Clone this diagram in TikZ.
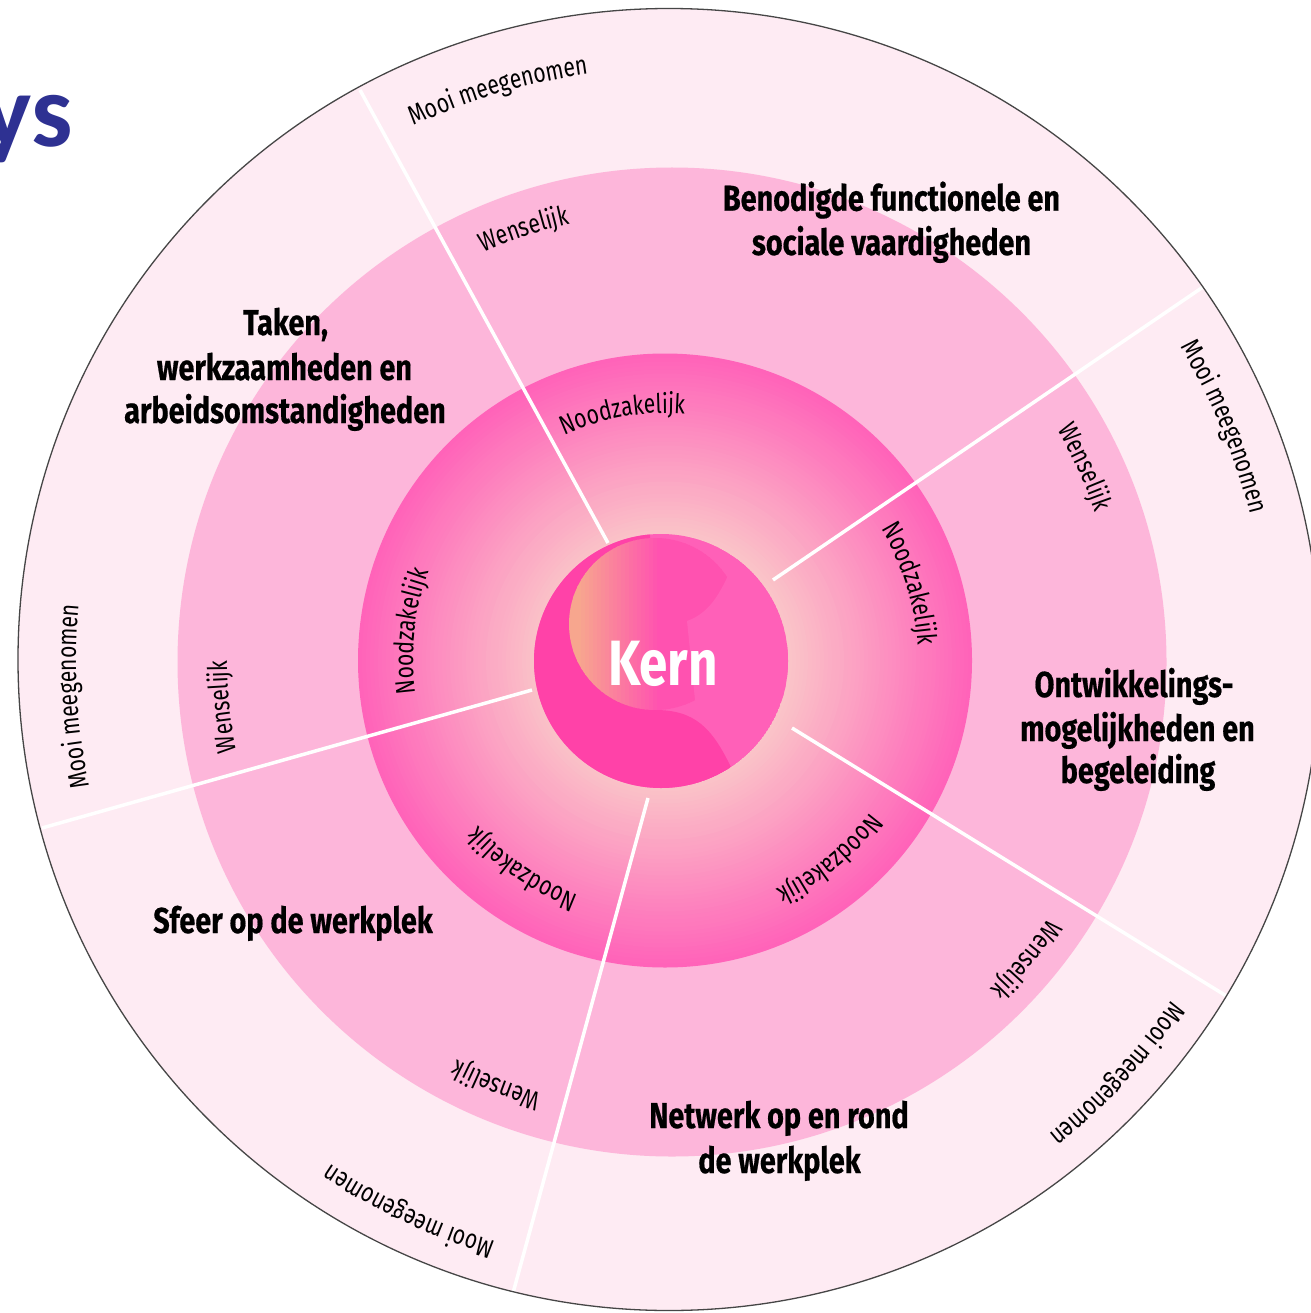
\documentclass[tikz,border=0pt]{standalone}
\usepackage{fontspec}
\usetikzlibrary{decorations.text}
\newfontfamily\hfont[FakeStretch=0.80,BoldFeatures={FakeBold=0.5}]{Fira Sans}
\newfontfamily\lfont[FakeStretch=0.78]{Fira Sans}
\newfontfamily\kfont[FakeStretch=0.80]{Fira Sans}
\newfontfamily\ysfont{Carlito}
\newcommand\lblstyle{\lfont\fontsize{27pt}{32pt}\selectfont}
\newcommand\headstyle{\hfont\bfseries\fontsize{36pt}{44pt}\selectfont}
\definecolor{ringout}{RGB}{254,235,243}
\definecolor{ringmid}{RGB}{253,182,218}
\definecolor{glowin}{RGB}{250,196,200}
\definecolor{glowout}{RGB}{255,98,185}
\definecolor{kernmid}{RGB}{255,96,184}
\definecolor{kerndark}{RGB}{255,66,168}
\definecolor{kernpeach}{RGB}{247,166,142}
\definecolor{kerngrad}{RGB}{255,82,176}
\definecolor{ysblue}{RGB}{46,49,146}
\definecolor{rimgray}{RGB}{70,70,70}
\newcommand\arclabel[3]{\path[decorate,decoration={text along path,text align=center,text={|\lblstyle|#3}}] (G) ++({#1+45}:#2pt) arc[start angle={#1+45},end angle={#1-45},radius=#2pt];}
\tikzset{
  divider/.style={draw=white,line width=3.5pt},
  rim/.style={draw=rimgray,line width=1.3pt},
  heading/.style={anchor=base,inner sep=0pt,font=\headstyle,text=black},
}
\begin{document}
\begin{tikzpicture}[x=1pt,y=1pt]
\useasboundingbox (0,0) rectangle (1310,-1313);
\fill[white] (0,0) rectangle (1310,-1313);
% centres
\coordinate (O) at (669,-659.5);
\coordinate (M) at (672,-662);
\coordinate (I) at (665,-660.5);
\coordinate (K) at (661,-661);
\coordinate (S) at (655,-624);
\coordinate (G) at (667,-660);
% rings
\fill[ringout] (O) circle[radius=651pt];
\fill[ringmid] (M) circle[radius=494.5pt];
\foreach \k in {0,...,45}{
  \pgfmathsetmacro\rr{307-4*\k}
  \pgfmathtruncatemacro\ff{(180-4*\k)/1.8}
  \fill[glowout!\ff!glowin] (I) circle[radius=\rr pt];
}
% dividers
\coordinate (a1) at (608,-543); \coordinate (b1) at (360,-90);
\coordinate (a2) at (773,-580); \coordinate (b2) at (1203,-287);
\coordinate (a3) at (792,-728); \coordinate (b3) at (1228,-997);
\coordinate (a4) at (648,-798); \coordinate (b4) at (513,-1293);
\coordinate (a5) at (532,-690); \coordinate (b5) at (42,-828);
\draw[divider] (a1) -- (b1);
\draw[divider] (a2) -- (b2);
\draw[divider] (a3) -- (b3);
\draw[divider] (a4) -- (b4);
\draw[divider] (a5) -- (b5);
\draw[rim] (O) circle[radius=651pt];
% Kern
\begin{scope}
\clip (K) circle[radius=127pt];
\fill[kernmid] (K) circle[radius=127pt];
\fill[kerndark] (K) ++(-56.6:127pt) coordinate (kA) arc[start angle=-56.6,end angle=-265,radius=127pt] -- (655,-624) -- (655,-710) .. controls (695,-710) and (712,-728) .. (kA) -- cycle;
\begin{scope}
\clip (S) circle[radius=86pt];
\foreach \i in {0,...,43}{
  \pgfmathtruncatemacro\pp{max(0,min(100,(\i-2)*5))}
  \fill[kerngrad!\pp!kernpeach] ({569+4*\i},-530) rectangle ++(4.6,-190);
}
\end{scope}
\fill[kernmid] (K) ++(54:127pt) coordinate (kB) .. controls (722,-590) and (712,-612) .. (687,-621) -- (695,-700) -- (800,-700) -- (800,-500) -- cycle;
\end{scope}
\node[text=white,inner sep=0pt,font=\kfont\bfseries\fontsize{64pt}{64pt}\selectfont] (kern) at (663,-664) {Kern};
% headings
\node[heading] (h1a) at (891.5,-210.7) {Benodigde functionele en};
\node[heading] (h1b) at (891.5,-255) {sociale vaardigheden};
\node[heading] (h2a) at (285.5,-335) {Taken,};
\node[heading] (h2b) at (284.5,-380) {werkzaamheden en};
\node[heading] (h2c) at (285,-423) {arbeidsomstandigheden};
\node[heading] (h3a) at (1134,-697) {Ontwikkelings-};
\node[heading] (h3b) at (1137.5,-741) {mogelijkheden en};
\node[heading] (h3c) at (1138,-783) {begeleiding};
\node[heading] (h4a) at (293,-933) {Sfeer op de werkplek};
\node[heading] (h5a) at (779,-1128) {Netwerk op en rond};
\node[heading] (h5b) at (779.5,-1173) {de werkplek};
% ring labels
\arclabel{106.5}{591}{Mooi meegenomen}
\arclabel{108.4}{447}{Wenselijk}
\arclabel{100.2}{247}{Noodzakelijk}
\arclabel{183.5}{591}{Mooi meegenomen}
\arclabel{186}{440}{Wenselijk}
\arclabel{173.6}{254}{Noodzakelijk}
\arclabel{22.7}{601}{Mooi meegenomen}
\arclabel{24.8}{453}{Wenselijk}
\arclabel{17.4}{251}{Noodzakelijk}
\arclabel{-50.8}{254}{Noodzakelijk}
\arclabel{-39.8}{461}{Wenselijk}
\arclabel{-42.6}{609}{Mooi meegenomen}
\arclabel{-124.7}{251}{Noodzakelijk}
\arclabel{-111.9}{451}{Wenselijk}
\arclabel{-115.1}{606}{Mooi meegenomen}
% title fragment
\node[anchor=base east,inner sep=0pt,text=ysblue,font=\ysfont\bfseries\fontsize{104pt}{104pt}\selectfont] (ys) at (73,-147) {ys};
\end{tikzpicture}
\end{document}
